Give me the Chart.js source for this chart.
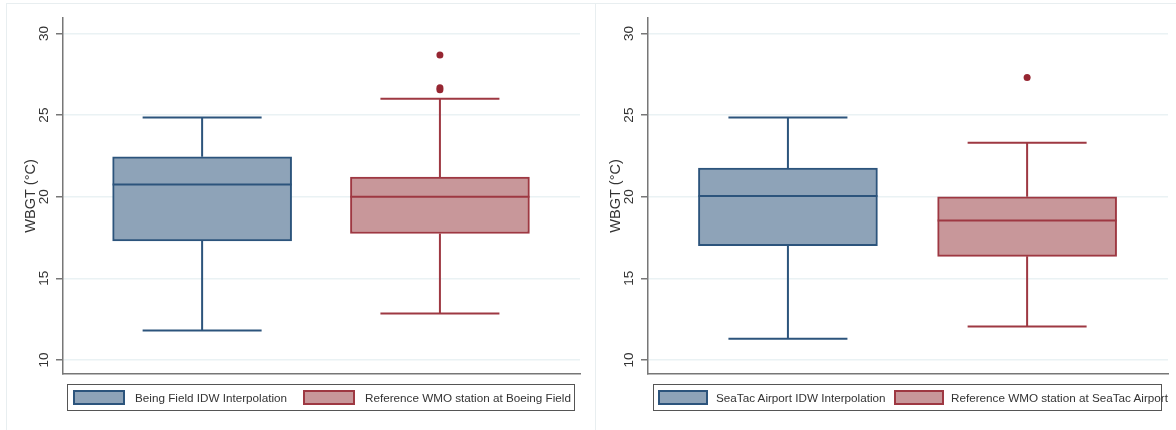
<!DOCTYPE html>
<html>
<head>
<meta charset="utf-8">
<script src="https://cdn.jsdelivr.net/npm/chart.js@4.4.1/dist/chart.umd.min.js"></script>
<style>
  body { margin: 0; width: 1176px; height: 430px; overflow: hidden; position: relative; background: #fff;
         font-family: "Liberation Sans", Arial, sans-serif; }
  .frame { position: absolute; top: 3px; height: 430px; border-top: 1px solid #e8eef0; border-left: 1px solid #e8eef0; }
  canvas { position: absolute; top: 0; }
  .legend { position: absolute; top: 384px; height: 25px; border: 1px solid #555; }
  .legend .sw { position: absolute; top: 5px; height: 11px; border: 2px solid; }
  .legend .tx { position: absolute; top: 0; line-height: 25px; font-size: 11.7px; color: #333; white-space: nowrap; }
</style>
</head>
<body>
<div class="frame" style="left:6px;width:588px;border-right:1px solid #e8eef0"></div>
<div class="frame" style="left:595px;width:581px"></div>
<canvas id="boeing" width="595" height="430" style="left:0"></canvas>
<canvas id="seatac" width="581" height="430" style="left:595px"></canvas>
<div class="legend" id="boeingLegend" style="left:67px;width:506px"></div>
<div class="legend" id="seatacLegend" style="left:653px;width:507px"></div>

<script>
// Boeing Field panel
const boeingLabels = ['Being Field IDW Interpolation', 'Reference WMO station at Boeing Field'];
const boeingMin = [11.8, 12.85];
const boeingQ1 = [17.3, 17.75];
const boeingMedian = [20.75, 20.0];
const boeingQ3 = [22.45, 21.2];
const boeingMax = [24.85, 26.0];
const boeingOutliers = [[], [26.55, 26.68, 28.68]];

// SeaTac panel
const seatacLabels = ['SeaTac Airport IDW Interpolation', 'Reference WMO station at SeaTac Airport'];
const seatacMin = [11.3, 12.05];
const seatacQ1 = [17.0, 16.35];
const seatacMedian = [20.05, 18.55];
const seatacQ3 = [21.75, 20.0];
const seatacMax = [24.85, 23.3];
const seatacOutliers = [[], [27.3]];

const yTicks = [10, 15, 20, 25, 30];

const fills = ['rgb(142,163,184)', 'rgb(200,151,154)'];
const strokes = ['rgb(44,84,124)', 'rgb(158,56,66)'];
const dotColor = 'rgb(150,38,50)';
const axisColor = '#777';
const font = '"Liberation Sans", Arial, sans-serif';

function whiskers(stats) {
    return {
        id: 'whiskers',
        beforeDatasetsDraw(chart) {
            const {ctx, scales: {x, y}} = chart;
            ctx.save();
            ctx.lineWidth = 2;
            stats.median.forEach((m, i) => {
                const cx = x.getPixelForValue(i);
                const capHalf = 59.5;
                const top = y.getPixelForValue(stats.max[i]);
                const bot = y.getPixelForValue(stats.min[i]);
                ctx.strokeStyle = strokes[i];
                ctx.beginPath();
                ctx.moveTo(cx, y.getPixelForValue(stats.q3[i]));
                ctx.lineTo(cx, top);
                ctx.moveTo(cx, y.getPixelForValue(stats.q1[i]));
                ctx.lineTo(cx, bot);
                ctx.moveTo(cx - capHalf, top);
                ctx.lineTo(cx + capHalf, top);
                ctx.moveTo(cx - capHalf, bot);
                ctx.lineTo(cx + capHalf, bot);
                ctx.stroke();
            });
            ctx.restore();
        },
        afterDatasetDraw(chart, args) {
            if (args.index !== 0) return;
            const {ctx, scales: {y}} = chart;
            ctx.save();
            ctx.lineWidth = 2;
            args.meta.data.forEach((bar, i) => {
                const py = y.getPixelForValue(stats.median[i]);
                ctx.strokeStyle = strokes[i];
                ctx.beginPath();
                ctx.moveTo(bar.x - bar.width / 2, py);
                ctx.lineTo(bar.x + bar.width / 2, py);
                ctx.stroke();
            });
            ctx.restore();
        }
    };
}

function drawPanel(id, stats, outliers, padLeft, padRight) {
    const boxes = stats.q1.map((q, i) => ({x: i, y: [q, stats.q3[i]]}));
    const dots = outliers.flatMap((vals, i) => vals.map(v => ({x: i, y: v})));

    const config = {
        type: 'bar',
        data: {
            datasets: [
                {
                    data: boxes,
                    backgroundColor: fills,
                    borderColor: strokes,
                    borderWidth: 2,
                    borderSkipped: false,
                    barThickness: 179
                },
                {
                    type: 'scatter',
                    data: dots,
                    pointRadius: 3.5,
                    pointBorderWidth: 0,
                    pointBackgroundColor: dotColor
                }
            ]
        },
        options: {
            responsive: false,
            animation: false,
            layout: { padding: { top: 18, bottom: 56, left: padLeft, right: padRight } },
            plugins: { legend: { display: false }, tooltip: { enabled: false } },
            scales: {
                x: {
                    type: 'linear',
                    offset: false,
                    min: -0.585,
                    max: 1.589,
                    ticks: { display: false },
                    grid: { display: false, offset: false },
                    border: { display: true, color: axisColor, width: 1.5 },
                    afterFit: s => { s.height = 0; }
                },
                y: {
                    min: 9.14,
                    max: 30.95,
                    afterBuildTicks: s => { s.ticks = yTicks.map(v => ({value: v})); },
                    ticks: {
                        minRotation: 90,
                        maxRotation: 90,
                        crossAlign: 'center',
                        padding: 4,
                        color: '#333',
                        font: { size: 13.5, family: font }
                    },
                    grid: { color: 'rgb(234,242,244)', lineWidth: 1.5, tickColor: axisColor, tickLength: 7 },
                    border: { color: axisColor, width: 1.5 },
                    title: {
                        display: true,
                        text: 'WBGT (°C)',
                        color: '#333',
                        font: { size: 14.5, family: font },
                        padding: { top: 7.5, bottom: 0 }
                    },
                    afterFit: s => { s.width = 48; }
                }
            }
        },
        plugins: [whiskers(stats)]
    };
    return new Chart(document.getElementById(id), config);
}

function buildLegend(id, labels, cols, swatchW) {
    const el = document.getElementById(id);
    labels.forEach((label, i) => {
        const sw = document.createElement('div');
        sw.className = 'sw';
        sw.style.left = cols[i][0] + 'px';
        sw.style.width = (swatchW - 4) + 'px';
        sw.style.background = fills[i];
        sw.style.borderColor = strokes[i];
        const tx = document.createElement('span');
        tx.className = 'tx';
        tx.style.left = cols[i][1] + 'px';
        tx.textContent = label;
        el.appendChild(sw);
        el.appendChild(tx);
    });
}

drawPanel('boeing', {min: boeingMin, q1: boeingQ1, median: boeingMedian, q3: boeingQ3, max: boeingMax},
          boeingOutliers, 15, 15);
drawPanel('seatac', {min: seatacMin, q1: seatacQ1, median: seatacMedian, q3: seatacQ3, max: seatacMax},
          seatacOutliers, 5, 8);

buildLegend('boeingLegend', boeingLabels, [[5, 67], [235, 297]], 52);
buildLegend('seatacLegend', seatacLabels, [[4, 62], [240, 297]], 50);
</script>
</body>
</html>
